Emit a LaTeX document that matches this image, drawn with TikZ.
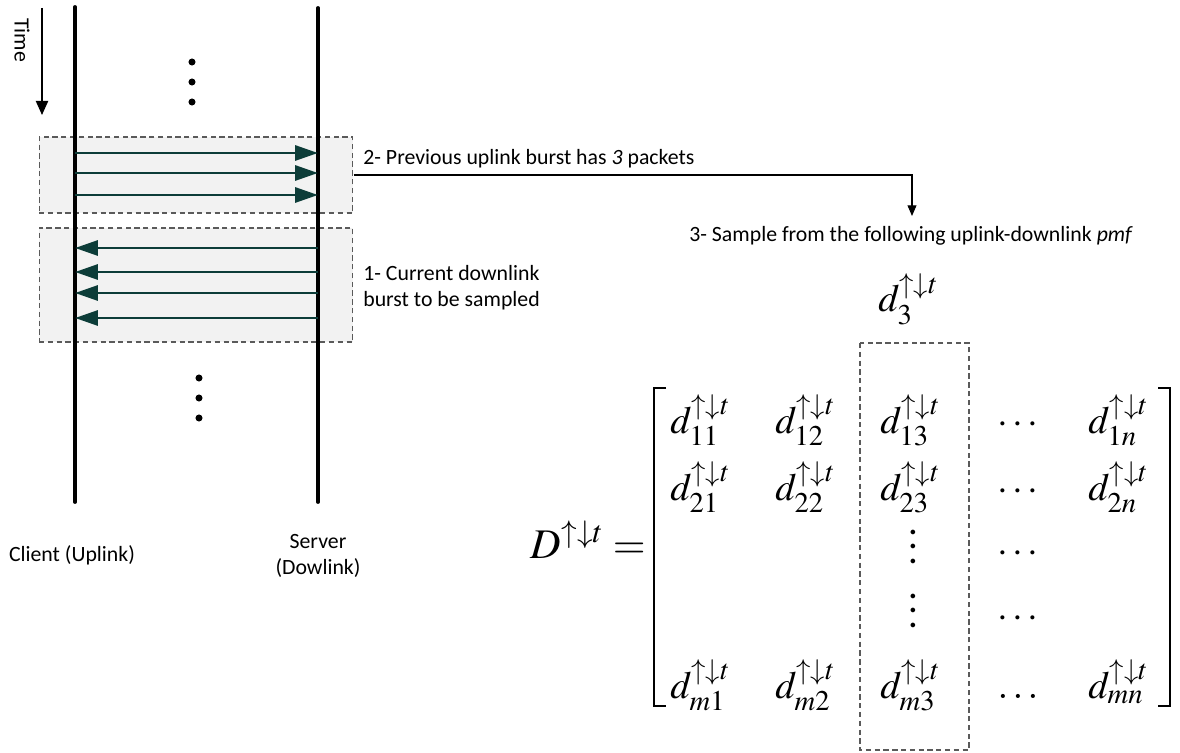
\documentclass[tikz,border=0pt]{standalone}
\usepackage{mathptmx}
\usepackage[no-math]{fontspec}
\setmainfont{Carlito}
\usetikzlibrary{arrows.meta}
\definecolor{pktteal}{RGB}{13,61,57}
\definecolor{burstfill}{RGB}{242,242,242}
\definecolor{burstline}{RGB}{90,90,90}
\newcommand{\tallvdots}{\vbox{\baselineskip=8pt\lineskiplimit=0pt\hbox{.}\hbox{.}\hbox{.}}}

\begin{document}
\begin{tikzpicture}
[x=0.02cm,y=-0.02cm
,txt/.style={font=\fontsize{12.4}{15}\selectfont,inner sep=0pt}
,life/.style={line width=2.2pt,line cap=round}
,burst/.style={draw=burstline,fill=burstfill,dash pattern=on 3pt off 2pt,line width=0.6pt}
,pkt/.style={draw=pktteal,line width=1.7pt,arrows={-Triangle[length=13pt,width=8.5pt]}}
,conn/.style={draw,line width=0.6pt,arrows={-Triangle[length=6pt,width=5pt]}}
,ent/.style={font=\fontsize{22}{26}\selectfont,inner sep=0pt,anchor=base west}
,brk/.style={line width=1.3pt}
]
\useasboundingbox (0,0) rectangle (1180,753);
% bursts
\node[burst,minimum width=6.28cm,minimum height=1.52cm] (upburst) at (196,175) {};
\node[burst,minimum width=6.28cm,minimum height=2.28cm] (downburst) at (196,285) {};
% lifelines
\coordinate (cltop) at (75,7);
\coordinate (clbot) at (75,502);
\coordinate (svtop) at (318,8);
\coordinate (svbot) at (318,502);
\draw[life] (cltop) -- (clbot);
\draw[life] (svtop) -- (svbot);
% packets
\foreach \y in {153,173,195}
  \draw[pkt] (cltop |- 0,\y) -- (svtop |- 0,\y);
\foreach \y in {248,272,293,318}
  \draw[pkt] (svtop |- 0,\y) -- (cltop |- 0,\y);
\foreach \y in {62,82,102}
  \fill (192,\y) circle (2pt);
\foreach \y in {378,398,418}
  \fill (199,\y) circle (2pt);
% time
\coordinate (tmtop) at (42,8);
\coordinate (tmbot) at (42,115);
\draw[line width=0.7pt,-{Triangle[length=8pt,width=7pt]}] (tmtop) -- (tmbot);
\node[txt,rotate=-90] (timelbl) at (22,40) {Time};
% labels
\node[txt,anchor=base west] (prevlbl) at (363,165) {2- Previous uplink burst has \textit{3} packets};
\node[txt,anchor=base west,align=left] (curlbl) at (363,307) {1- Current downlink\\burst to be sampled};
\node[txt,anchor=base west] (pmflbl) at (689,242) {3- Sample from the following uplink-downlink \textit{pmf}};
\coordinate (pmftop) at (912,216);
\draw[conn] (upburst.east) -| (pmftop);
\node[txt] (client) at (72,555) {Client (Uplink)};
\node[txt,align=center] (server) at (318,556) {Server\\(Dowlink)};
% matrix
\node[ent,font=\fontsize{24}{28}\selectfont,anchor=base east] (Dlbl) at (646,558) {$D^{\uparrow\downarrow t} =$};
\node[ent] (dcol) at (878,312) {$d_{3}^{\uparrow\downarrow t}$};
\foreach \rw/\yy in {1/433,2/500,m/698}
  \foreach \cl/\xx in {1/670,2/775,3/880,n/1088}
    \node[ent] (d\rw\cl) at (\xx,\yy) {$d_{\rw\cl}^{\uparrow\downarrow t}$};
\node[ent,anchor=base] (v3) at (913,563) {\tallvdots};
\node[ent,anchor=base] (v4) at (913,627) {\tallvdots};
\node[ent,anchor=base] (h1) at (1018,433) {$\cdots$};
\node[ent,anchor=base] (h2) at (1018,500) {$\cdots$};
\node[ent,anchor=base] (h3) at (1018,562) {$\cdots$};
\node[ent,anchor=base] (h4) at (1018,627) {$\cdots$};
\node[ent,anchor=base] (hm) at (1018,698) {$\ldots$};
\draw[brk] (666,388) -- (654,388) -- (654,706) -- (666,706);
\draw[brk] (1158,388) -- (1170,388) -- (1170,706) -- (1158,706);
\draw[burst,fill=none] (860,343) rectangle (969,750);
\end{tikzpicture}
\end{document}
